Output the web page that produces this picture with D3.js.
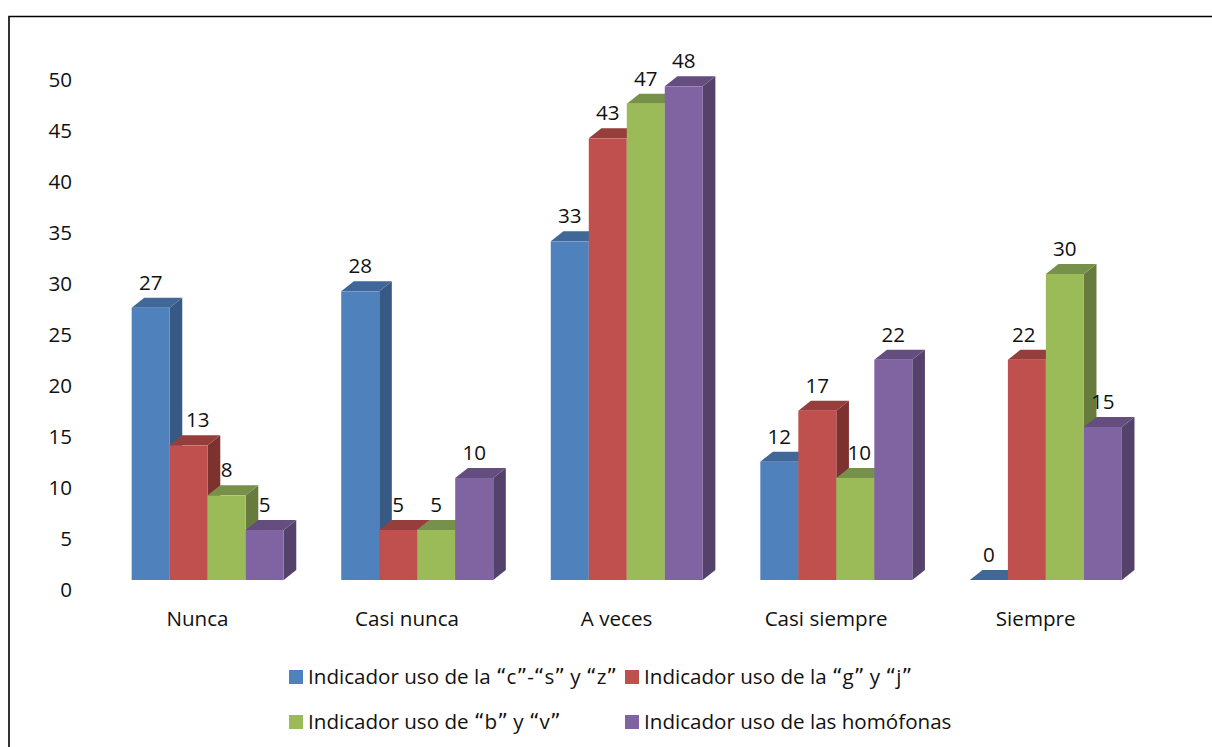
<!DOCTYPE html>
<html><head><meta charset="utf-8">
<script src="https://cdn.jsdelivr.net/npm/d3@7"></script>
<style>html,body{margin:0;padding:0;background:#fff}svg{display:block}text{font-family:"Open Sans",sans-serif;fill:#111}</style>
</head><body><svg id="c" width="1212" height="747"></svg>
<script>
const categories = ["Nunca","Casi nunca","A veces","Casi siempre","Siempre"];
const seriesNames = ["Indicador uso de la “c”-“s” y “z”","Indicador uso de la “g” y “j”","Indicador uso de “b” y “v”","Indicador uso de las homófonas"];
const cszHeights = [26.7,28.3,33.2,11.6,0];
const gjHeights = [13.2,4.9,43.3,16.6,21.6];
const bvHeights = [8.3,4.9,46.7,10,30];
const homHeights = [4.9,10,48.4,21.6,15];
const cszLabels = [27,28,33,12,0];
const gjLabels = [13,5,43,17,22];
const bvLabels = [8,5,47,10,30];
const homLabels = [5,10,48,22,15];
const yTicks = [0,5,10,15,20,25,30,35,40,45,50];
const frontColors = ["#4f81bd","#c0504d","#9bbb59","#8064a2"];
const topColors = ["#3f6797","#953e3c","#78914a","#644e7f"];
const sideColors = ["#375a84","#7d3230","#667b3c","#54426b"];

const heights = [cszHeights,gjHeights,bvHeights,homHeights];
const labels = [cszLabels,gjLabels,bvLabels,homLabels];
const svg = d3.select("#c");
const fs = "20.6px";
svg.append("path").attr("d","M9,747V16.5H1212").attr("fill","none").attr("stroke","#000").attr("stroke-width",1.6);

const y = d3.scaleLinear().domain([0,50]).range([589,79]);
const floorOffset = 9, dx = 12.6, dy = 10;
const x0 = d3.scaleBand().domain(categories).range([102.9,1150.65]);
const bw = 38;
const x1 = d3.scaleBand().domain(d3.range(4)).range([0,4*bw]);
const groupLeft = c => x0(c)+x0.bandwidth()/2-2*bw;
const labelShift = (si,ci) => (si===1&&ci===0)?9:(si===2&&ci===3)?4:(si===1&&ci===4)?-3:0;

const axis = d3.axisLeft(y).tickValues(yTicks).tickSize(0).tickPadding(0);
const ag = svg.append("g").attr("transform","translate(72,0)").call(axis);
ag.select(".domain").remove();
ag.selectAll("text").style("font-size",fs).attr("dy",".34em").attr("text-anchor","end");

const xg = d3.axisBottom(x0).tickSize(0).tickPadding(0);
const xa = svg.append("g").attr("transform","translate(-10.2,605)").call(xg);
xa.select(".domain").remove();
xa.selectAll("text").style("font-size",fs).attr("dy","1em");

categories.forEach((c,ci)=>{
  d3.range(4).forEach(si=>{
    const v = heights[si][ci];
    const L = groupLeft(c)+x1(si), R = L+bw, T = y(v)-floorOffset, B = y(0)-floorOffset;
    const g = svg.append("g");
    g.append("path").attr("d",`M${R},${T}L${R+dx},${T-dy}L${R+dx},${B-dy}L${R},${B}Z`).attr("fill",sideColors[si]);
    g.append("path").attr("d",`M${L},${T}L${L+dx},${T-dy}L${R+dx},${T-dy}L${R},${T}Z`).attr("fill",topColors[si]);
    g.append("rect").attr("x",L).attr("y",T).attr("width",bw).attr("height",B-T).attr("fill",frontColors[si]);
  });
});
categories.forEach((c,ci)=>{
  d3.range(4).forEach(si=>{
    const v = heights[si][ci];
    const L = groupLeft(c)+x1(si);
    svg.append("text").attr("x",L+bw/2+labelShift(si,ci)).attr("y",y(v)-floorOffset-18).attr("text-anchor","middle").style("font-size",fs).text(labels[si][ci]);
  });
});

const legendX = d3.scaleOrdinal().domain([0,1,2,3]).range([289,625,289,625]);
const legendY = d3.scaleOrdinal().domain([0,1,2,3]).range([677,677,722,722]);
seriesNames.forEach((n,i)=>{
  svg.append("rect").attr("x",legendX(i)).attr("y",legendY(i)-7).attr("width",14).attr("height",14).attr("fill",frontColors[i]);
  const t = svg.append("text").attr("x",legendX(i)+19).attr("y",legendY(i)+7).style("font-size",fs);
  n.split(/([“”])/).forEach(part=>{
    const ts = t.append("tspan").text(part);
    if (part==="“"||part==="”") ts.style("font-family","'DejaVu Sans'");
  });
});
</script></body></html>
